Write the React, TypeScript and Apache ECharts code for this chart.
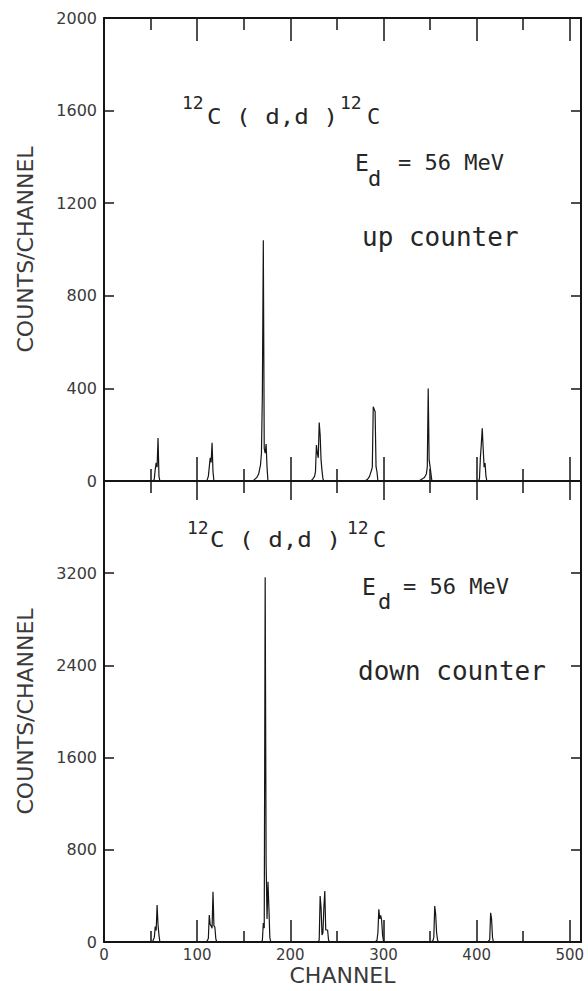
import React, { useEffect, useRef } from "react";
import * as echarts from "echarts";

// Upper spectrum ("up counter"): channel -> counts
const upperChannels = [
  0,
  53, 54, 55, 56, 57, 58, 59, 60,
  110, 111, 112, 113, 114, 115, 116, 117, 118,
  160, 162, 164, 166, 167, 168, 169, 170, 171, 172, 173, 174, 175, 176,
  222, 224, 226, 227, 228, 229, 230, 231, 232, 233, 234, 235, 236,
  280, 283, 285, 287, 288, 289, 290, 291, 292, 293, 294,
  338, 341, 344, 346, 347, 348, 349, 350, 351, 352,
  402, 403, 404, 405, 406, 407, 408, 409, 410, 411,
  511,
];
const upperCounts = [
  0,
  0, 10, 50, 78, 60, 186, 20, 0,
  0, 8, 20, 60, 100, 80, 165, 40, 0,
  0, 8, 15, 30, 50, 70, 120, 380, 1040, 140, 120, 160, 60, 0,
  0, 8, 20, 40, 155, 120, 100, 253, 200, 90, 45, 10, 0,
  0, 8, 20, 45, 60, 321, 310, 300, 62, 40, 0,
  0, 8, 15, 30, 60, 400, 90, 62, 30, 0,
  0, 10, 100, 160, 228, 140, 60, 78, 20, 0,
  0,
];

// Lower spectrum ("down counter"): channel -> counts
const lowerChannels = [
  0,
  52, 54, 55, 56, 57, 58, 59, 60,
  110, 112, 113, 114, 115, 116, 117, 118, 119, 120, 121,
  169, 170, 171, 172, 173, 174, 175, 176, 177, 178, 179,
  230, 231, 232, 233, 234, 235, 236, 237, 238, 239, 240, 241, 242,
  291, 293, 294, 295, 296, 297, 298, 299, 300, 301,
  351, 353, 354, 355, 356, 357, 358, 359,
  412, 414, 415, 416, 417, 418,
  511,
];
const lowerCounts = [
  0,
  0, 40, 133, 100, 320, 150, 60, 0,
  0, 30, 234, 150, 140, 120, 436, 140, 130, 30, 0,
  0, 15, 165, 120, 3165, 690, 200, 522, 300, 40, 0,
  0, 20, 398, 300, 60, 80, 300, 442, 104, 104, 104, 20, 0,
  0, 15, 80, 283, 200, 230, 190, 60, 10, 0,
  0, 10, 40, 312, 240, 80, 20, 0,
  0, 20, 254, 200, 40, 0,
  0,
];

const majorChannelTicks = [0, 100, 200, 300, 400, 500];
const minorChannelTicks = [50, 150, 250, 350, 450];
const channelMax = 512;
const upperYMax = 2000;
const upperYStep = 400;
const lowerYMax = 4000;
const lowerYStep = 800;

const INK = "#151515";
const LABEL = "#3a3a3a";
const TXT = "#262626";
const SANS = "DejaVu Sans";
const MONO = "DejaVu Sans Mono";

const plain = (v: number) => String(v);

function xAxisCfg(grid: number, pos: string, ticks: number[], len: number, showLine: boolean, labels = false) {
  return {
    type: "value",
    gridIndex: grid,
    position: pos,
    min: 0,
    max: channelMax,
    axisLine: { show: showLine, onZero: false, lineStyle: { color: INK, width: 2 } },
    axisTick: { show: true, inside: true, length: len, customValues: ticks, lineStyle: { color: INK, width: 1.5 } },
    axisLabel: labels
      ? { show: true, customValues: majorChannelTicks, formatter: plain, fontSize: 15, color: LABEL, fontFamily: SANS, margin: 5 }
      : { show: false },
    splitLine: { show: false },
    ...(labels
      ? {
          name: "CHANNEL",
          nameLocation: "middle",
          nameGap: 22,
          nameTextStyle: { fontSize: 22, color: LABEL, fontFamily: SANS },
        }
      : {}),
  };
}

function yAxisCfg(grid: number, pos: string, max: number, step: number, labels: boolean, hideMax: boolean) {
  return {
    type: "value",
    gridIndex: grid,
    position: pos,
    min: 0,
    max,
    interval: step,
    axisLine: { show: true, onZero: false, lineStyle: { color: INK, width: 2 } },
    axisTick: { show: true, inside: true, length: 10, lineStyle: { color: INK, width: 1.5 } },
    axisLabel: labels
      ? { show: true, formatter: plain, fontSize: 16, color: LABEL, fontFamily: SANS, margin: 7, showMaxLabel: !hideMax }
      : { show: false },
    splitLine: { show: false },
    ...(labels
      ? {
          name: "COUNTS/CHANNEL",
          nameLocation: "middle",
          nameRotate: 90,
          nameGap: 68,
          nameTextStyle: { fontSize: 22, color: LABEL, fontFamily: SANS },
        }
      : {}),
  };
}

function txt(text: string, x: number, y: number, size: number, scaleX = 1) {
  return {
    type: "text",
    x,
    y,
    scaleX,
    style: { text, fontSize: size, fontFamily: MONO, fill: TXT, verticalAlign: "middle", align: "left" },
  };
}

export default function App() {
  const ref = useRef<HTMLDivElement>(null);
  useEffect(() => {
    if (!ref.current) return;
    const chart = echarts.init(ref.current, null, { renderer: "svg" });
    const upperData = upperChannels.map((c, i) => [c, upperCounts[i]]);
    const lowerData = lowerChannels.map((c, i) => [c, lowerCounts[i]]);
    chart.setOption({
      animation: false,
      backgroundColor: "#ffffff",
      grid: [
        { left: 104, right: 7, top: 18, height: 463, outerBoundsMode: "none" },
        { left: 104, right: 7, top: 481, bottom: 49, outerBoundsMode: "none" },
      ],
      xAxis: [
        xAxisCfg(0, "bottom", majorChannelTicks, 24, true),
        xAxisCfg(0, "bottom", minorChannelTicks, 12, false),
        xAxisCfg(0, "top", majorChannelTicks, 23, true),
        xAxisCfg(0, "top", minorChannelTicks, 12, false),
        xAxisCfg(1, "top", majorChannelTicks, 19, true),
        xAxisCfg(1, "top", minorChannelTicks, 12, false),
        xAxisCfg(1, "bottom", majorChannelTicks, 22, true, true),
        xAxisCfg(1, "bottom", minorChannelTicks, 11, false),
      ],
      yAxis: [
        yAxisCfg(0, "left", upperYMax, upperYStep, true, false),
        yAxisCfg(0, "right", upperYMax, upperYStep, false, false),
        yAxisCfg(1, "left", lowerYMax, lowerYStep, true, true),
        yAxisCfg(1, "right", lowerYMax, lowerYStep, false, false),
      ],
      series: [
        {
          type: "line",
          name: "up counter",
          xAxisIndex: 0,
          yAxisIndex: 0,
          data: upperData,
          showSymbol: false,
          symbol: "none",
          lineStyle: { color: INK, width: 1.2 },
        },
        {
          type: "line",
          name: "down counter",
          xAxisIndex: 6,
          yAxisIndex: 2,
          data: lowerData,
          showSymbol: false,
          symbol: "none",
          lineStyle: { color: INK, width: 1.2 },
        },
      ],
      graphic: [
        txt("12", 182, 102, 18),
        txt("C ( d,d )", 207, 116, 22, 1.1),
        txt("12", 340, 102, 18),
        txt("C", 367, 116, 22),
        txt("E", 355, 163, 23),
        txt("d", 368, 178.5, 22),
        txt("= 56 MeV", 398, 162.5, 22),
        txt("up counter", 362, 237, 26),
        txt("12", 187, 527, 18),
        txt("C ( d,d )", 210, 539.5, 22, 1.1),
        txt("12", 347, 527, 18),
        txt("C", 373, 539.5, 22),
        txt("E", 362, 586.5, 23),
        txt("d", 378, 601.5, 22),
        txt("= 56 MeV", 403, 586.5, 22),
        txt("down counter", 358, 671, 26),
      ],
    });
    return () => chart.dispose();
  }, []);
  return <div ref={ref} style={{ width: 588, height: 991, position: "absolute", left: 0, top: 0 }} />;
}
